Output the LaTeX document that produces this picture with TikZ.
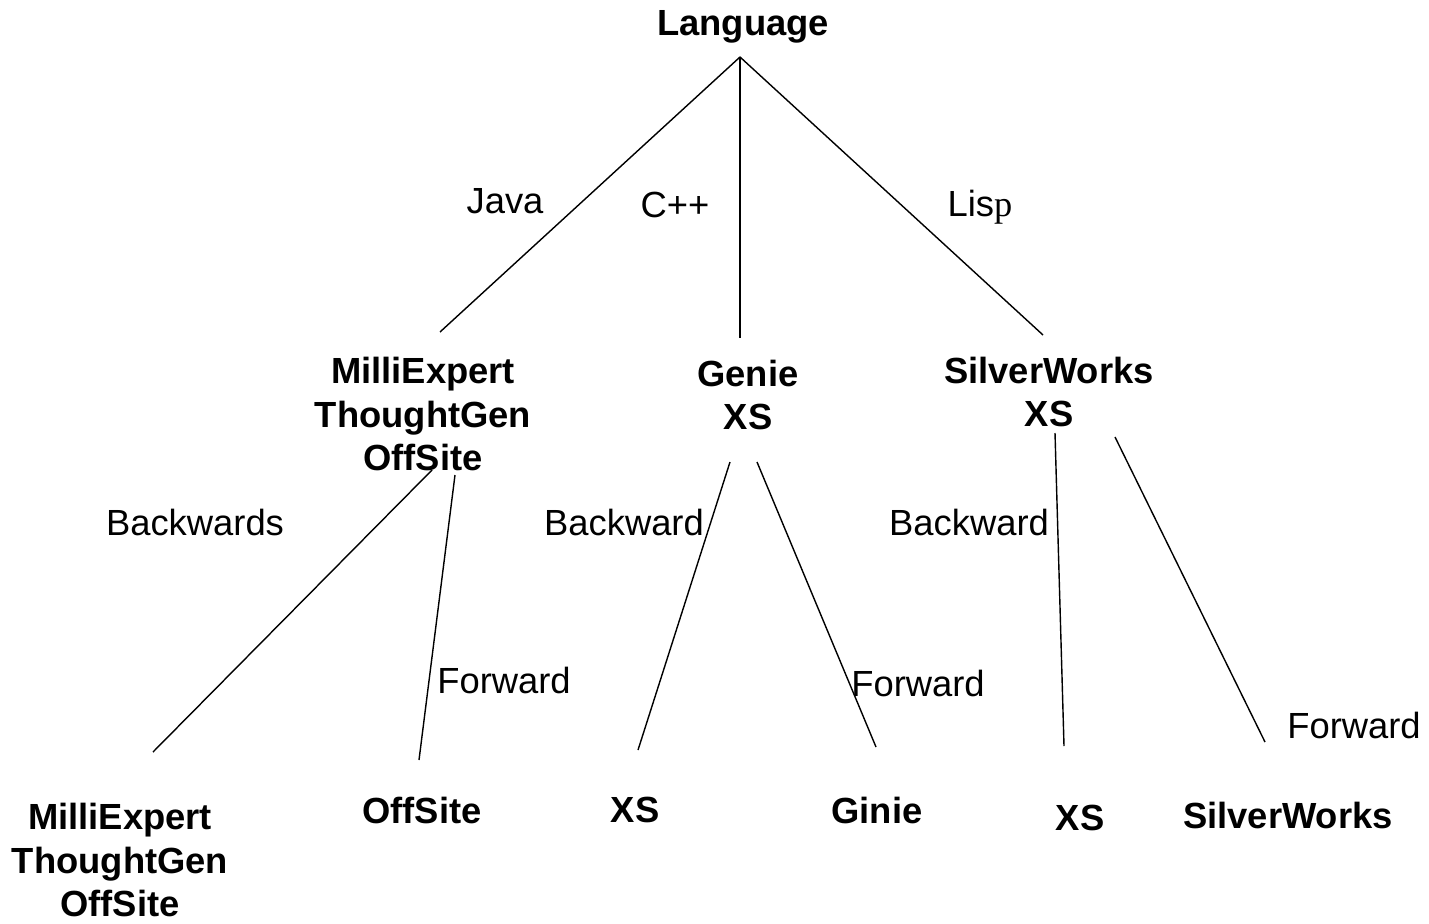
\documentclass[tikz,border=0pt]{standalone}
\usepackage{fontspec}
\setmainfont{Liberation Sans}
\newfontfamily\serifp{Liberation Serif}
\usepackage{tikz}

\begin{document}
\begin{tikzpicture}
  [x=0.02cm,y=-0.02cm,line width=0.8pt,
   every node/.style={inner sep=0pt,align=center,font=\fontsize{20.7}{25}\selectfont},
   prod/.style={font=\fontsize{20.7}{25}\selectfont\bfseries}]
  \useasboundingbox (0,0) rectangle (1429,923);

  % labels
  \node[prod] (lang) at (743,27) {Language};
  \node (java) at (505,201) {Java};
  \node (cpp) at (675,205) {C++};
  \node (lisp) at (980,207) {Lis{\serifp p}};

  \node[prod] (milli) at (423,414) {MilliExpert\\ThoughtGen\\OffSite};
  \node[prod] (genie) at (748,395) {Genie\\XS};
  \node[prod] (silver) at (1049,392) {SilverWorks\\XS};

  \node (bw1) at (195,522) {Backwards};
  \node (bw2) at (624,522) {Backward};
  \node (bw3) at (969,522) {Backward};
  \node (fw1) at (504,680) {Forward};
  \node (fw2) at (918,683) {Forward};
  \node (fw3) at (1354,725) {Forward};

  \node[prod] (milli2) at (120,860) {MilliExpert\\ThoughtGen\\OffSite};
  \node[prod] (off) at (422,810) {OffSite};
  \node[prod] (xs1) at (635,810) {XS};
  \node[prod] (ginie) at (877,810) {Ginie};
  \node[prod] (xs2) at (1080,818) {XS};
  \node[prod] (sw) at (1288,815) {SilverWorks};

  % line ends
  \coordinate (top) at (740,57);
  \coordinate (a1) at (440,332);
  \coordinate (a2) at (740,338);
  \coordinate (a3) at (1043,335);
  \coordinate (m1) at (432,470);
  \coordinate (m2) at (455,475);
  \coordinate (g1) at (730,462);
  \coordinate (g2) at (757,462);
  \coordinate (s1) at (1055,433);
  \coordinate (s2) at (1115,437);
  \coordinate (b1) at (153,752);
  \coordinate (b2) at (419,760);
  \coordinate (b3) at (638,750);
  \coordinate (b4) at (876,747);
  \coordinate (b5) at (1064,746);
  \coordinate (b6) at (1265,742);

  \foreach \from/\to in {top/a1,top/a2,top/a3,m1/b1,m2/b2,g1/b3,g2/b4,s1/b5,s2/b6}
    \draw (\from) -- (\to);

\end{tikzpicture}
\end{document}
